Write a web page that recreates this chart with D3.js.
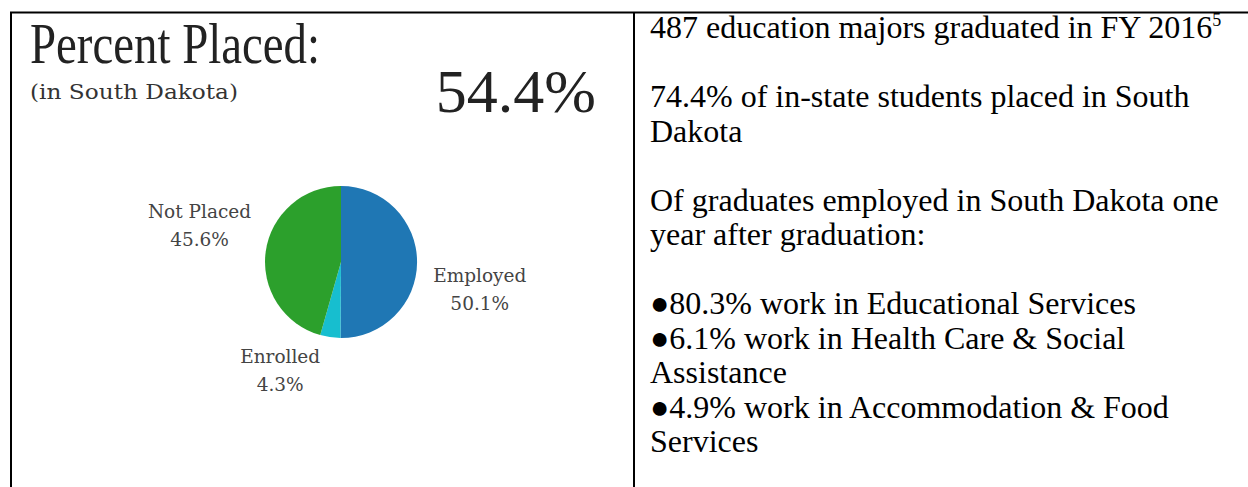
<!DOCTYPE html>
<html>
<head>
<meta charset="utf-8">
<script src="https://cdn.jsdelivr.net/npm/d3@7"></script>
<style>
  body { margin: 0; background: #fff; }
</style>
</head>
<body>
<script>
// chart values
const categories = ["Employed", "Enrolled", "Not Placed"];
const shares = [50.1, 4.3, 45.6];
const sliceColors = ["#1f77b4", "#17becf", "#2ca02c"];
const headline = "Percent Placed:";
const subhead = "(in South Dakota)";
const placedRate = "54.4%";
const factLines = [
  "487 education majors graduated in FY 2016",
  "",
  "74.4% of in-state students placed in South",
  "Dakota",
  "",
  "Of graduates employed in South Dakota one",
  "year after graduation:",
  "",
  "\u25CF80.3% work in Educational Services",
  "\u25CF6.1% work in Health Care & Social",
  "Assistance",
  "\u25CF4.9% work in Accommodation & Food",
  "Services"
];
const footnote = "5";

const w = 1248, h = 487;
const cx = 341, cy = 262, r = 76;
// label nudges (px) after placing at the arc centroid
const labelNudge = { "Employed": [5, 20], "Enrolled": [-42, -31], "Not Placed": [-9, -26] };

const svg = d3.select("body").append("svg")
  .attr("width", w)
  .attr("height", h);

// table rules
svg.append("line").attr("x1", 10).attr("x2", w).attr("y1", 12.5).attr("y2", 12.5)
  .attr("stroke", "#000").attr("stroke-width", 2);
svg.append("line").attr("x1", 11).attr("x2", 11).attr("y1", 12).attr("y2", h)
  .attr("stroke", "#000").attr("stroke-width", 2);
svg.append("line").attr("x1", 634).attr("x2", 634).attr("y1", 12).attr("y2", h)
  .attr("stroke", "#000").attr("stroke-width", 2);

// left cell
svg.append("text").text(headline)
  .attr("x", 30).attr("y", 63)
  .attr("textLength", 290)
  .attr("lengthAdjust", "spacingAndGlyphs")
  .style("font-family", "Liberation Serif, serif")
  .style("font-size", "56px")
  .attr("fill", "#222");

svg.append("text").text(subhead)
  .attr("x", 30).attr("y", 99)
  .attr("textLength", 208)
  .attr("lengthAdjust", "spacingAndGlyphs")
  .style("font-family", "DejaVu Serif, serif")
  .style("font-size", "21px")
  .attr("fill", "#333");

svg.append("text").text(placedRate)
  .attr("x", 596).attr("y", 112)
  .attr("text-anchor", "end")
  .style("font-family", "Liberation Serif, serif")
  .style("font-size", "62px")
  .attr("fill", "#222");

const data = categories.map((c, i) => ({ name: c, value: shares[i], color: sliceColors[i] }));
const pie = d3.pie().value(d => d.value).sort(null);
const arc = d3.arc().innerRadius(0).outerRadius(r);
const labelArc = d3.arc().innerRadius(r * 1.76).outerRadius(r * 1.76);

const g = svg.append("g").attr("transform", `translate(${cx},${cy})`);
const arcs = pie(data);

g.selectAll("path.slice")
  .data(arcs)
  .enter()
  .append("path")
  .attr("class", "slice")
  .attr("d", arc)
  .attr("fill", d => d.data.color);

const labels = g.selectAll("text.lbl")
  .data(arcs)
  .enter()
  .append("text")
  .attr("class", "lbl")
  .attr("text-anchor", "middle")
  .style("font-family", "DejaVu Serif, serif")
  .style("font-size", "18.5px")
  .attr("fill", "#444")
  .attr("transform", d => {
    const [x, y] = labelArc.centroid(d);
    const n = labelNudge[d.data.name];
    return `translate(${x + n[0]},${y + n[1]})`;
  });
labels.append("tspan").attr("x", 0).attr("y", 0).text(d => d.data.name);
labels.append("tspan").attr("x", 0).attr("y", 28).text(d => d.data.value + "%");

// right cell
const ft = svg.append("text")
  .style("font-family", "Liberation Serif, serif")
  .style("font-size", "32px")
  .attr("fill", "#000");
factLines.forEach((line, i) => {
  if (!line) return;
  ft.append("tspan").attr("x", 650).attr("y", 38 + i * 34.5).text(line);
  if (i === 0) {
    ft.append("tspan").attr("dy", -12).style("font-size", "18px").text(footnote);
  }
});
</script>
</body>
</html>
